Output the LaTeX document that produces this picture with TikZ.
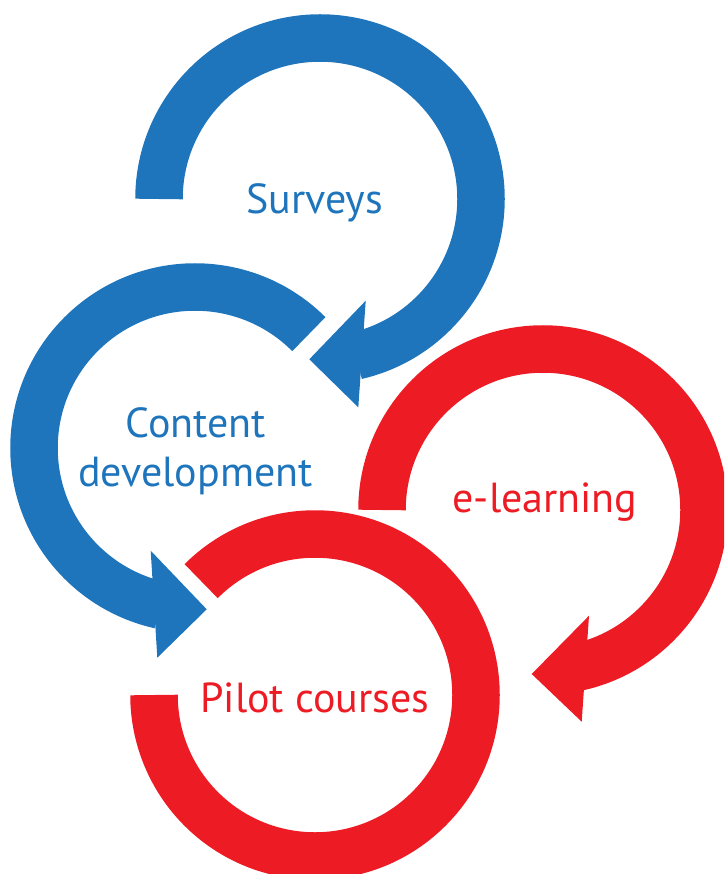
\documentclass[tikz,border=0pt]{standalone}
\usepackage{fontspec}
\setmainfont{PT Sans}
\definecolor{cblue}{RGB}{31,117,188}
\definecolor{cred}{RGB}{237,28,36}
\begin{document}
\begin{tikzpicture}[x=1pt,y=-1pt,
  ring/.style={line width=47.5pt},
  lbl/.style={font=\fontsize{42}{50}\selectfont, inner sep=0pt, anchor=base}]
\useasboundingbox (0,0) rectangle (724,874);
\clip (0,0) rectangle (724,874);
% centres
\coordinate (sc) at (320,199);
\coordinate (cc) at (195,448);
\coordinate (ec) at (543,510);
\coordinate (pc) at (315,695);
% Surveys ring
\draw[ring,cblue] ([shift={(180:161)}]sc) arc (180:437:161);
\fill[cblue] (365.7,300.7) -- (309.3,359.3) -- (358.3,407.3) -- cycle;
% Content development ring
\draw[ring,cblue] ([shift={(-45:161)}]cc) arc (-45:-257.5:161);
\fill[cblue] (150.7,550.7) -- (206.7,609.3) -- (157.3,657.7) -- cycle;
% e-learning ring
\draw[ring,cred] ([shift={(180:161)}]ec) arc (180:437.6:161);
\fill[cred] (589,615.7) -- (531.7,674) -- (581.7,721.7) -- cycle;
% Pilot courses ring
\draw[ring,cred] ([shift={(-135:161)}]pc) arc (-135:180:161);
% labels
\node[lbl,text=cblue] (surveys) at (314.5,214) {Surveys};
\node[lbl,text=cblue] (content) at (196,437) {Content};
\node[lbl,text=cblue] (development) at (195.5,486) {development};
\node[lbl,text=cred] (elearning) at (545,512) {e-learning};
\node[lbl,text=cred] (pilot) at (315,712) {Pilot courses};
\end{tikzpicture}
\end{document}
